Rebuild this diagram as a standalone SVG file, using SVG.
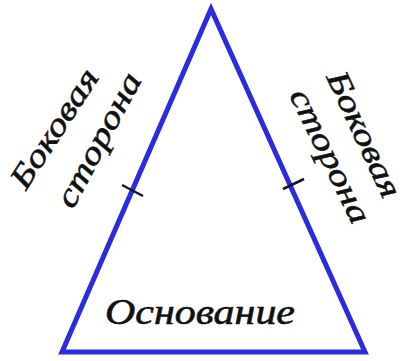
<svg xmlns="http://www.w3.org/2000/svg" width="409" height="361" viewBox="0 0 409 361">
<style>
.side{fill:none;stroke:#2b2be0;stroke-width:5;stroke-linejoin:miter}
.tick{stroke:#151525;stroke-width:2.5}
.lbl{font-family:"Liberation Serif","DejaVu Serif",serif;font-style:italic;font-size:32px;fill:#111;stroke:#111;stroke-width:0.6}
.base{font-size:36px}
</style>
<rect width="409" height="361" fill="#fff"/>
<g id="triangle">
<polygon class="side" points="211,9 62,352 365,352"/>
</g>
<g id="connectors">
<line class="tick" x1="122" y1="185" x2="143" y2="196"/>
<line class="tick" x1="283" y1="189" x2="304" y2="179"/>
</g>
<g id="left-label">
<text class="lbl" transform="translate(26,191) rotate(-57)" textLength="136" lengthAdjust="spacingAndGlyphs">Боковая</text>
<text class="lbl" transform="translate(73,210) rotate(-62)" textLength="148" lengthAdjust="spacingAndGlyphs">сторона</text>
</g>
<g id="right-label">
<text class="lbl" transform="translate(326,77) rotate(65)" textLength="136" lengthAdjust="spacingAndGlyphs">Боковая</text>
<text class="lbl" transform="translate(289,95) rotate(64)" textLength="146" lengthAdjust="spacingAndGlyphs">сторона</text>
</g>
<g id="base-label">
<text class="lbl base" x="105" y="324" textLength="190" lengthAdjust="spacingAndGlyphs">Основание</text>
</g>
</svg>
